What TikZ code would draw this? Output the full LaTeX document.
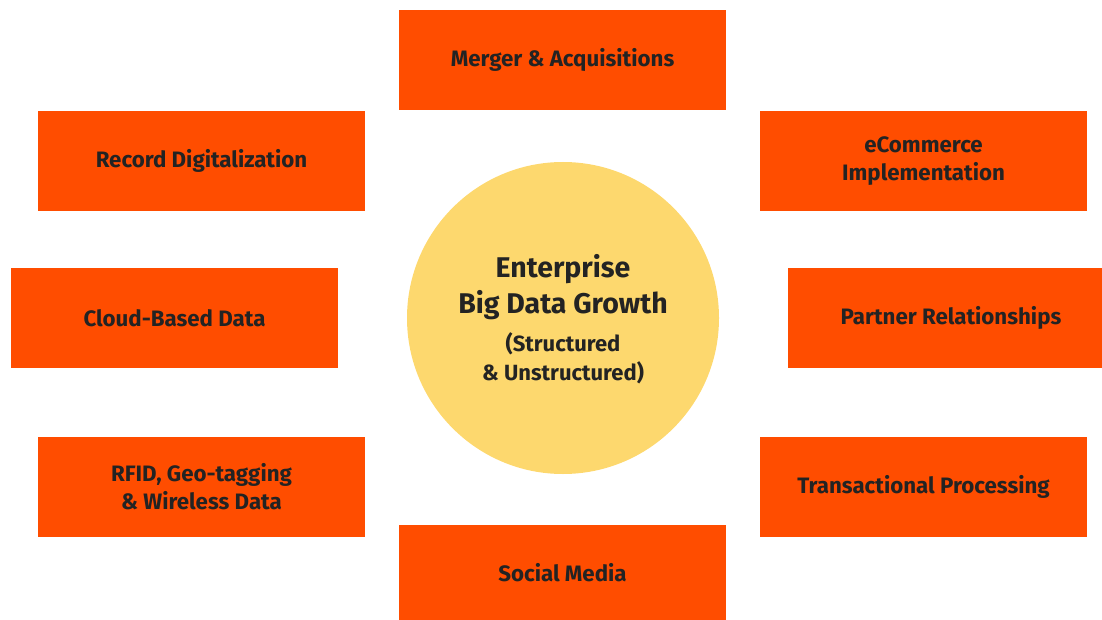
\documentclass[tikz,border=0pt]{standalone}
\usepackage{fontspec}
\setmainfont{Fira Sans}
\definecolor{boxorange}{HTML}{FF4D00}
\definecolor{hubyellow}{HTML}{FDD86E}
\definecolor{ink}{HTML}{232323}
\begin{document}
\begin{tikzpicture}[x=1pt,y=-1pt,
  item/.style={rectangle, fill=boxorange, draw=none, minimum width=327pt, minimum height=100pt,
    inner sep=0pt, text=ink, font=\fontsize{22.3}{28}\selectfont\bfseries, align=center},
  hub/.style={circle, fill=hubyellow, draw=none, minimum size=312pt, inner sep=0pt},
  hubtext/.style={align=center, text=ink, inner sep=0pt}]
\useasboundingbox (0,0) rectangle (1102,620);
\node[item] (merger) at (562.5,60) {Merger \& Acquisitions};
\node[item] (record) at (201.5,161) {Record Digitalization};
\node[item] (ecom) at (923.5,161) {eCommerce\\Implementation};
\node[item] (cloud) at (174.5,318) {Cloud-Based Data};
\node[item] (partner) at (951,318) {Partner Relationships};
\node[item] (rfid) at (201.5,487) {RFID, Geo-tagging\\\& Wireless Data};
\node[item] (trans) at (923.5,487) {Transactional Processing};
\node[item, minimum height=95pt] (social) at (562.5,572.5) {Social Media};
\node[hub] (center) at (563,318) {};
\node[hubtext, font=\fontsize{28.5}{36}\selectfont\bfseries] (title) at (563,287) {Enterprise\\Big Data Growth};
\node[hubtext, font=\fontsize{22}{29}\selectfont\bfseries] (sub) at (563,358) {(Structured\\\& Unstructured)};
\end{tikzpicture}
\end{document}
